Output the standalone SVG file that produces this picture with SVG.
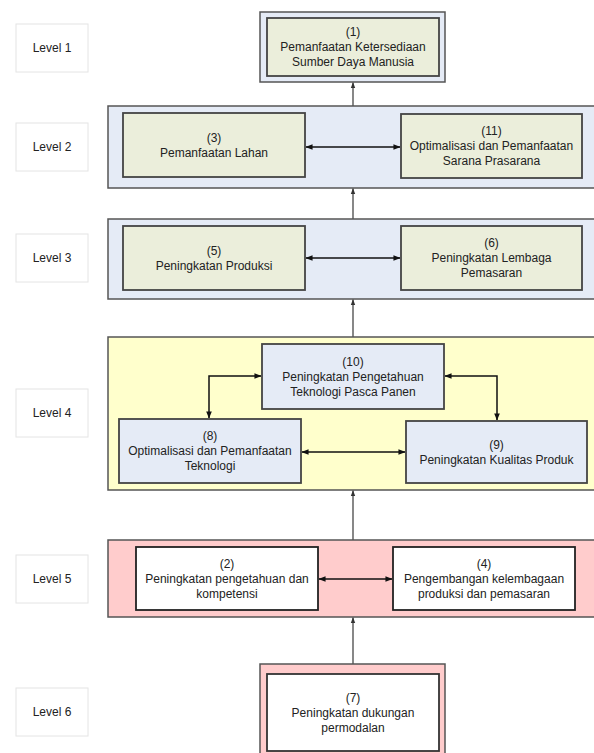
<svg xmlns="http://www.w3.org/2000/svg" width="594" height="753" viewBox="0 0 594 753">
<defs>
<marker id="ah" viewBox="0 0 8 8" refX="7.5" refY="4" markerWidth="7" markerHeight="7" markerUnits="userSpaceOnUse" orient="auto-start-reverse">
<path d="M0,0.8 L8,4 L0,7.2 z" fill="#111"/>
</marker>
<marker id="ahg" viewBox="0 0 8 8" refX="7.5" refY="4" markerWidth="6" markerHeight="6" markerUnits="userSpaceOnUse" orient="auto">
<path d="M0,1 L8,4 L0,7 z" fill="#333"/>
</marker>
<style>
text{font-family:"Liberation Sans",Arial,sans-serif;font-size:12px;fill:#222;text-anchor:middle}
.lab{fill:#fff;stroke:#e4e4e4;stroke-width:1}
.outB{fill:#e5ebf6;stroke:#555;stroke-width:1.5}
.outY{fill:#ffffcc;stroke:#555;stroke-width:1.5}
.outP{fill:#ffcccc;stroke:#555;stroke-width:1.5}
.inG{fill:#ebeedb;stroke:#444;stroke-width:1.8}
.inB{fill:#e5ebf6;stroke:#444;stroke-width:1.8}
.inW{fill:#fff;stroke:#222;stroke-width:1.8}
.v{stroke:#555;stroke-width:1.4;fill:none}
.h{stroke:#111;stroke-width:1.5;fill:none}
</style>
</defs>

<g id="labels">
<rect class="lab" x="16" y="24" width="72" height="48"/><text x="52" y="52">Level 1</text>
<rect class="lab" x="16" y="123" width="72" height="48"/><text x="52" y="151">Level 2</text>
<rect class="lab" x="16" y="234" width="72" height="48"/><text x="52" y="262">Level 3</text>
<rect class="lab" x="16" y="389" width="72" height="48"/><text x="52" y="417">Level 4</text>
<rect class="lab" x="16" y="555" width="72" height="48"/><text x="52" y="583">Level 5</text>
<rect class="lab" x="16" y="688" width="72" height="48"/><text x="52" y="716">Level 6</text>
</g>

<g id="level1">
<rect class="outB" x="260" y="12" width="185" height="70"/>
<g id="n1">
<rect class="inG" x="267" y="18" width="172" height="58"/>
<text x="353" y="36">(1)</text>
<text x="353" y="51">Pemanfaatan Ketersediaan</text>
<text x="353" y="66">Sumber Daya Manusia</text>
</g>
</g>

<g id="level2">
<rect class="outB" x="108" y="106" width="500" height="82"/>
<g id="n3">
<rect class="inG" x="123" y="113" width="182" height="64"/>
<text x="214" y="141.5">(3)</text>
<text x="214" y="156.5">Pemanfaatan Lahan</text>
</g>
<g id="n11">
<rect class="inG" x="401" y="114" width="181" height="64"/>
<text x="491.5" y="135">(11)</text>
<text x="491.5" y="150">Optimalisasi dan Pemanfaatan</text>
<text x="491.5" y="165">Sarana Prasarana</text>
</g>
</g>

<g id="level3">
<rect class="outB" x="108" y="219" width="500" height="80"/>
<g id="n5">
<rect class="inG" x="123" y="226" width="182" height="64"/>
<text x="214" y="254.5">(5)</text>
<text x="214" y="269.5">Peningkatan Produksi</text>
</g>
<g id="n6">
<rect class="inG" x="401" y="226" width="181" height="64"/>
<text x="491.5" y="247">(6)</text>
<text x="491.5" y="262">Peningkatan Lembaga</text>
<text x="491.5" y="277">Pemasaran</text>
</g>
</g>

<g id="level4">
<rect class="outY" x="108" y="337" width="500" height="153"/>
<g id="n10">
<rect class="inB" x="262" y="344" width="182" height="65"/>
<text x="353" y="365.5">(10)</text>
<text x="353" y="380.5">Peningkatan Pengetahuan</text>
<text x="353" y="395.5">Teknologi Pasca Panen</text>
</g>
<g id="n8">
<rect class="inB" x="119" y="419" width="182" height="64"/>
<text x="210" y="440">(8)</text>
<text x="210" y="455">Optimalisasi dan Pemanfaatan</text>
<text x="210" y="470">Teknologi</text>
</g>
<g id="n9">
<rect class="inB" x="406" y="421" width="181" height="62"/>
<text x="496.5" y="448.5">(9)</text>
<text x="496.5" y="463.5">Peningkatan Kualitas Produk</text>
</g>
</g>

<g id="level5">
<rect class="outP" x="108" y="540" width="500" height="77"/>
<g id="n2">
<rect class="inW" x="136" y="547" width="182" height="63"/>
<text x="227" y="567.5">(2)</text>
<text x="227" y="582.5">Peningkatan pengetahuan dan</text>
<text x="227" y="597.5">kompetensi</text>
</g>
<g id="n4">
<rect class="inW" x="393" y="547" width="182" height="63"/>
<text x="484" y="567.5">(4)</text>
<text x="484" y="582.5">Pengembangan kelembagaan</text>
<text x="484" y="597.5">produksi dan pemasaran</text>
</g>
</g>

<g id="level6">
<rect class="outP" x="260" y="664" width="185" height="100"/>
<g id="n7">
<rect class="inW" x="267" y="674" width="172" height="77" style="stroke:#333"/>
<text x="353" y="702">(7)</text>
<text x="353" y="717">Peningkatan dukungan</text>
<text x="353" y="732">permodalan</text>
</g>
</g>

<g id="connectors">
<line class="v" x1="353" y1="106" x2="353" y2="82.5" marker-end="url(#ahg)"/>
<line class="v" x1="353" y1="219" x2="353" y2="188.5" marker-end="url(#ahg)"/>
<line class="v" x1="353" y1="337" x2="353" y2="299.5" marker-end="url(#ahg)"/>
<line class="v" x1="353" y1="540" x2="353" y2="490.5" marker-end="url(#ahg)"/>
<line class="v" x1="353" y1="664" x2="353" y2="617.5" marker-end="url(#ahg)"/>
<line class="h" x1="306" y1="147" x2="400" y2="147" marker-start="url(#ah)" marker-end="url(#ah)"/>
<line class="h" x1="306" y1="258" x2="400" y2="258" marker-start="url(#ah)" marker-end="url(#ah)"/>
<line class="h" x1="302" y1="452" x2="405" y2="452" marker-start="url(#ah)" marker-end="url(#ah)"/>
<line class="h" x1="319" y1="579" x2="392" y2="579" marker-start="url(#ah)" marker-end="url(#ah)"/>
<polyline class="h" points="261,376 209,376 209,418" marker-start="url(#ah)" marker-end="url(#ah)"/>
<polyline class="h" points="445,376 497,376 497,420" marker-start="url(#ah)" marker-end="url(#ah)"/>
</g>
</svg>
